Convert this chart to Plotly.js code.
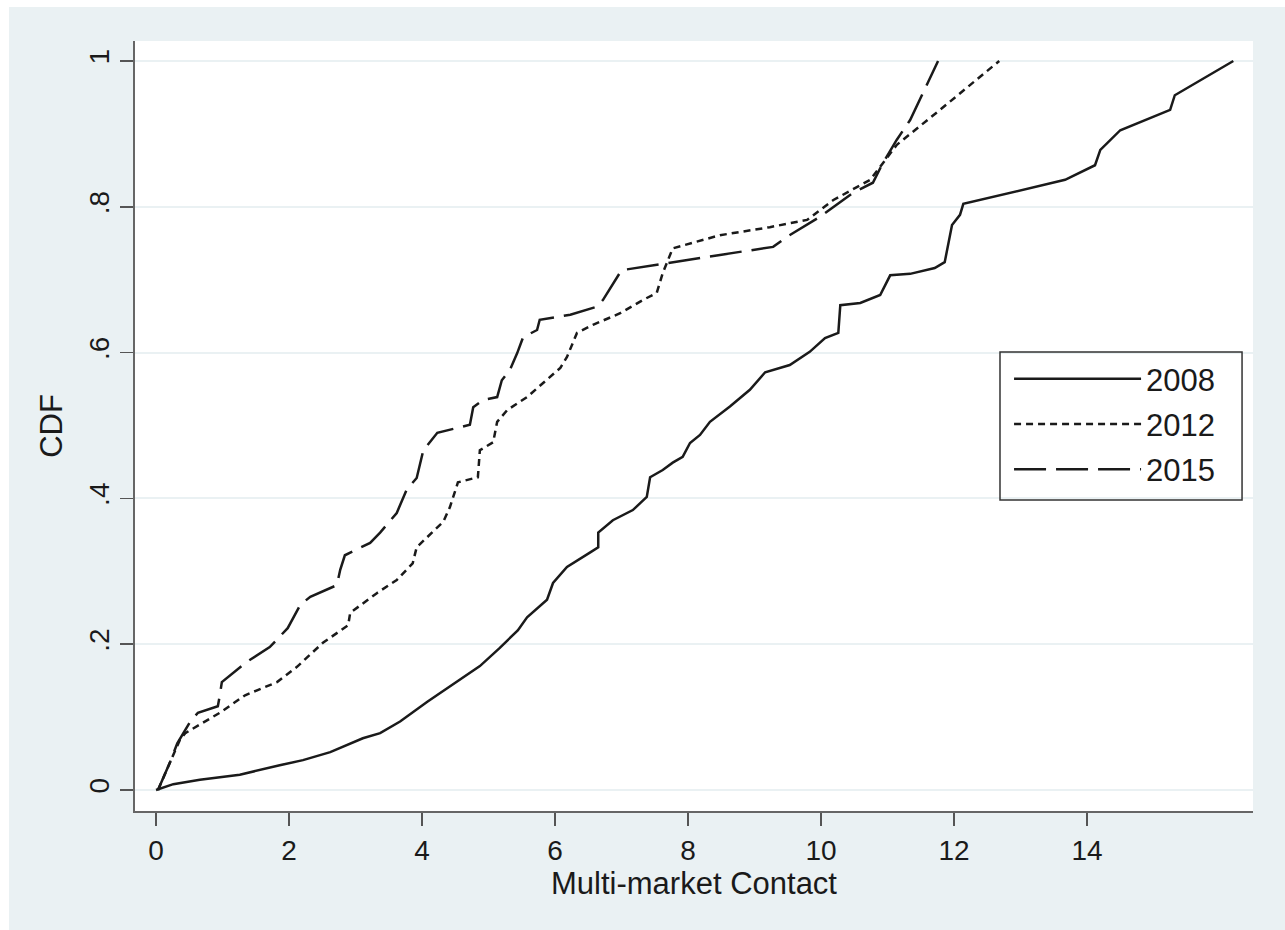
<!DOCTYPE html>
<html>
<head>
<meta charset="utf-8">
<script src="https://cdn.plot.ly/plotly-3.0.1.min.js"></script>
<style>
  html, body { margin: 0; padding: 0; background: #ffffff; }
  #chart { position: absolute; left: 9px; top: 7px; width: 1276px; height: 923px; }
</style>
</head>
<body>
<div id="chart"></div>
<script>
// Series names
const seriesNames = ["2008", "2012", "2015"];

// 2008 CDF
const x2008 = [0, 0.26, 0.66, 1.26, 1.86, 2.21, 2.62, 3.11, 3.37, 3.67, 4.08, 4.57, 4.87, 5.17, 5.44, 5.58, 5.88, 5.97, 6.18, 6.53, 6.65, 6.65, 6.87, 7.17, 7.38, 7.43, 7.62, 7.77, 7.92, 8.03, 8.18, 8.33, 8.63, 8.93, 9.16, 9.53, 9.83, 10.06, 10.26, 10.29, 10.59, 10.89, 11.04, 11.34, 11.71, 11.86, 11.97, 12.09, 12.14, 13.67, 14.12, 14.2, 14.5, 15.25, 15.32, 16.2];
const y2008 = [0, 0.008, 0.014, 0.021, 0.034, 0.041, 0.052, 0.071, 0.078, 0.094, 0.121, 0.151, 0.17, 0.195, 0.219, 0.237, 0.261, 0.284, 0.306, 0.326, 0.333, 0.353, 0.37, 0.384, 0.402, 0.429, 0.439, 0.449, 0.457, 0.476, 0.487, 0.505, 0.526, 0.549, 0.573, 0.583, 0.601, 0.62, 0.627, 0.665, 0.668, 0.679, 0.706, 0.708, 0.716, 0.724, 0.775, 0.789, 0.804, 0.837, 0.857, 0.878, 0.905, 0.933, 0.953, 1.0];

// 2012 CDF
const x2012 = [0.03, 0.36, 0.44, 0.96, 1.34, 1.82, 2.12, 2.51, 2.89, 2.92, 3.32, 3.62, 3.86, 3.92, 4.32, 4.42, 4.54, 4.84, 4.87, 5.07, 5.13, 5.28, 5.58, 6.08, 6.18, 6.33, 6.57, 6.98, 7.32, 7.53, 7.62, 7.77, 8.48, 9.23, 9.79, 10.18, 10.74, 11.14, 11.79, 12.68];
const y2012 = [0, 0.069, 0.078, 0.106, 0.13, 0.148, 0.169, 0.202, 0.226, 0.243, 0.27, 0.288, 0.311, 0.333, 0.368, 0.388, 0.422, 0.429, 0.466, 0.477, 0.505, 0.521, 0.539, 0.579, 0.594, 0.627, 0.638, 0.654, 0.672, 0.682, 0.709, 0.743, 0.761, 0.772, 0.782, 0.809, 0.837, 0.885, 0.933, 1.0];

// 2015 CDF
const x2015 = [0.03, 0.21, 0.32, 0.51, 0.63, 0.93, 0.96, 0.99, 1.37, 1.71, 1.98, 2.17, 2.32, 2.72, 2.77, 2.84, 3.22, 3.37, 3.62, 3.77, 3.92, 4.02, 4.23, 4.57, 4.72, 4.77, 4.92, 5.13, 5.2, 5.32, 5.43, 5.52, 5.73, 5.77, 6.23, 6.63, 6.72, 7.0, 7.68, 8.48, 9.28, 9.49, 9.98, 10.48, 10.78, 10.93, 11.14, 11.34, 11.76];
const y2015 = [0, 0.038, 0.064, 0.093, 0.106, 0.115, 0.13, 0.148, 0.176, 0.196, 0.222, 0.254, 0.265, 0.281, 0.302, 0.322, 0.339, 0.353, 0.38, 0.412, 0.428, 0.466, 0.49, 0.498, 0.501, 0.525, 0.535, 0.539, 0.562, 0.576, 0.599, 0.621, 0.631, 0.645, 0.652, 0.663, 0.672, 0.713, 0.723, 0.734, 0.745, 0.759, 0.786, 0.819, 0.833, 0.86, 0.892, 0.919, 1.0];

// Tick labels
const xTickVals = [0, 2, 4, 6, 8, 10, 12, 14];
const yTickVals = [0, 0.2, 0.4, 0.6, 0.8, 1];
const yTickText = ["0", ".2", ".4", ".6", ".8", "1"];

const FONT = "Liberation Sans, Arial, sans-serif";
const INK = "#1a1a1a";

const traces = [
  { x: x2008, y: y2008, name: seriesNames[0], legendgroup: "a",
    type: "scatter", mode: "lines", line: { color: INK, width: 2.5, dash: "solid" } },
  { x: x2012, y: y2012, name: seriesNames[1], legendgroup: "b",
    type: "scatter", mode: "lines", line: { color: INK, width: 2.5, dash: "7px,5px" } },
  { x: x2015, y: y2015, name: seriesNames[2], legendgroup: "c",
    type: "scatter", mode: "lines", line: { color: INK, width: 2.5, dash: "32px,10px" } }
];

const layout = {
  width: 1276, height: 923,
  margin: { l: 126, r: 32, t: 34, b: 119 },
  paper_bgcolor: "#eaf1f3",
  plot_bgcolor: "#ffffff",
  font: { family: FONT, size: 28, color: INK },
  showlegend: true,
  legend: {
    x: 0.7818, y: 0.596, xanchor: "left", yanchor: "top",
    bgcolor: "rgba(0,0,0,0)", borderwidth: 0,
    font: { family: FONT, size: 31, color: INK },
    itemwidth: 127, tracegroupgap: 2
  },
  shapes: [
    { type: "rect", xref: "paper", yref: "paper",
      x0: 0.7737, x1: 0.9902, y0: 0.4039, y1: 0.5961,
      line: { color: "#333333", width: 1.5 }, fillcolor: "rgba(0,0,0,0)", layer: "above" }
  ],
  xaxis: {
    range: [-0.316, 16.496],
    tickvals: xTickVals,
    ticks: "outside", ticklen: 13, tickwidth: 1.5, tickcolor: "#555555",
    showline: true, linecolor: "#666666", linewidth: 2,
    showgrid: false, zeroline: false,
    tickfont: { family: FONT, size: 28, color: INK },
    title: { text: "Multi-market Contact", font: { family: FONT, size: 31, color: INK }, standoff: 6 }
  },
  yaxis: {
    range: [-0.0288, 1.0274],
    tickvals: yTickVals, ticktext: yTickText, tickangle: -90,
    ticks: "outside", ticklen: 13, tickwidth: 1.5, tickcolor: "#555555",
    showline: true, linecolor: "#666666", linewidth: 2,
    showgrid: true, gridcolor: "#eaf1f3", gridwidth: 2,
    zeroline: false,
    tickfont: { family: FONT, size: 28, color: INK },
    title: { text: "CDF", font: { family: FONT, size: 31, color: INK } }
  }
};

Plotly.newPlot("chart", traces, layout, { displayModeBar: false, staticPlot: true });
</script>
</body>
</html>
